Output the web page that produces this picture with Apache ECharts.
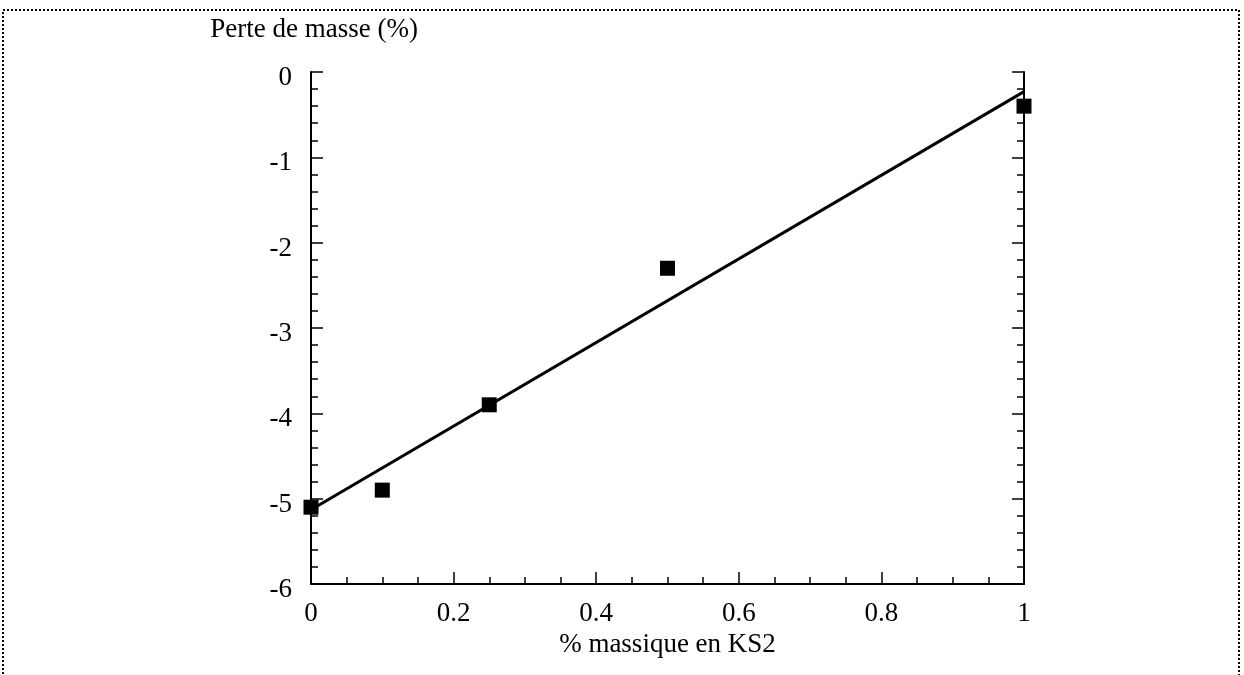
<!DOCTYPE html>
<html lang="fr">
<head>
    <meta charset="UTF-8">
    <title>Perte de masse</title>
    <script src="https://cdn.jsdelivr.net/npm/echarts@6/dist/echarts.min.js"></script>
    <style>
        html, body { margin: 0; padding: 0; background: #fff; }
    </style>
</head>
<body>
<div id="main" style="width: 1244px;height:675px;"></div>

<script type="text/javascript">
    // données
    var ks2 = [0, 0.1, 0.25, 0.5, 1];
    var perte = [-5.1, -4.9, -3.9, -2.3, -0.4];
    // droite de régression (extrémités)
    var fitX = [0, 1];
    var fitY = [-5.13, -0.23];
    var xTicks = [0, 0.2, 0.4, 0.6, 0.8, 1];
    var yTicks = [0, -1, -2, -3, -4, -5, -6];

    var font = 'Liberation Serif';
    var fs = 27;
    var myChart = echarts.init(document.getElementById('main'));

    var points = ks2.map(function (x, i) { return [x, perte[i]]; });
    var fit = fitX.map(function (x, i) { return [x, fitY[i]]; });

    var axisCommon = {
        axisLine: { show: true, onZero: false, lineStyle: { color: '#000', width: 2 } },
        axisTick: { inside: true, length: 12, lineStyle: { color: '#000', width: 1.5 } },
        minorTick: { show: true, length: 7, lineStyle: { color: '#000', width: 1.5 } },
        splitLine: { show: false }
    };

    var option = {
        animation: false,
        grid: { left: 311, top: 72, width: 713, height: 512, containLabel: false },
        graphic: [{
            type: 'rect',
            shape: { x: 3, y: 10, width: 1236, height: 700 },
            style: { fill: 'none', stroke: '#000', lineWidth: 2, lineDash: [2, 2] }
        }],
        xAxis: [Object.assign({
            type: 'value', min: 0, max: 1, interval: 0.2,
            name: '% massique en KS2', nameLocation: 'middle', nameGap: 40,
            nameTextStyle: { fontFamily: font, fontSize: fs, color: '#000' },
            axisLabel: {
                fontFamily: font, fontSize: fs, color: '#000', margin: 16,
                formatter: function (v) {
                    return xTicks.indexOf(Math.round(v * 10) / 10) >= 0 ? String(Math.round(v * 10) / 10) : '';
                }
            }
        }, axisCommon, { minorTick: Object.assign({ splitNumber: 4 }, axisCommon.minorTick) })],
        yAxis: [Object.assign({
            type: 'value', min: -6, max: 0, interval: 1, position: 'left',
            name: 'Perte de masse (%)', nameLocation: 'end', nameGap: 29,
            nameTextStyle: { fontFamily: font, fontSize: fs, color: '#000', align: 'right', padding: [0, -107, 0, 0] },
            axisLabel: {
                color: '#000', margin: 19,
                formatter: function (v) { return yTicks.indexOf(v) >= 0 ? '{t|' + v + '}' : ''; },
                rich: { t: { fontFamily: font, fontSize: fs, color: '#000', padding: [12, 0, 0, 0] } }
            }
        }, axisCommon, { minorTick: Object.assign({ splitNumber: 5 }, axisCommon.minorTick) }),
        Object.assign({
            type: 'value', min: -6, max: 0, interval: 1, position: 'right',
            axisLabel: { show: false }
        }, axisCommon, { minorTick: Object.assign({ splitNumber: 5 }, axisCommon.minorTick) })],
        series: [
            {
                type: 'line', data: fit, symbol: 'none',
                lineStyle: { color: '#000', width: 3 }, z: 2
            },
            {
                type: 'scatter', data: points, symbol: 'rect', symbolSize: 15,
                itemStyle: { color: '#000', opacity: 1 }, z: 3
            }
        ]
    };
    myChart.setOption(option);
</script>
</body>
</html>
